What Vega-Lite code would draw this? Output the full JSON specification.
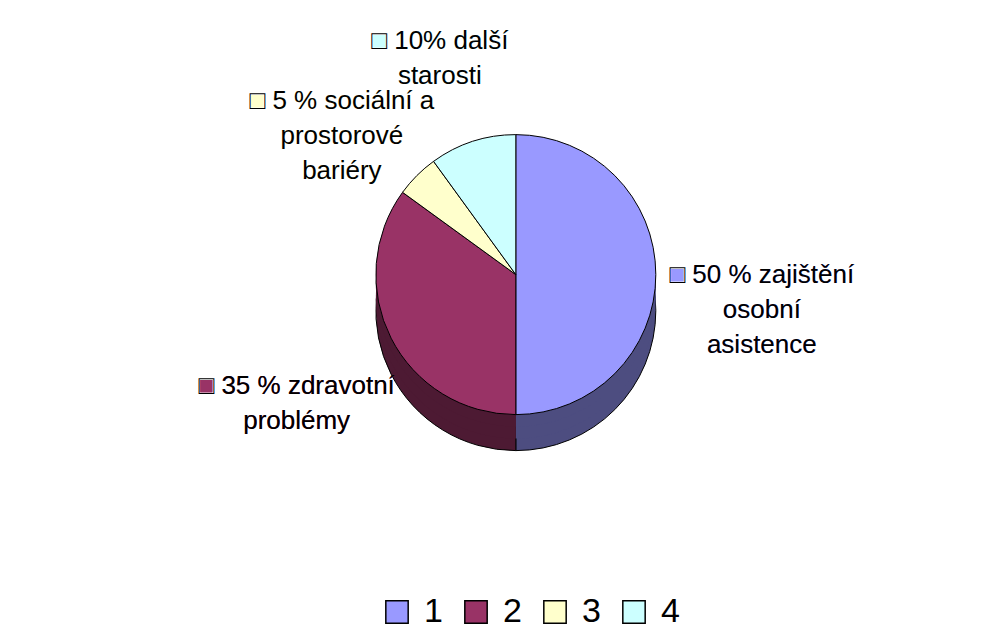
{
  "$schema": "https://vega.github.io/schema/vega-lite/v6.json",
  "width": 983,
  "height": 637,
  "autosize": {"type": "fit", "contains": "padding"},
  "padding": {"left": 5, "right": 5, "top": 5, "bottom": 5},
  "background": "white",
  "config": {"view": {"stroke": null}, "font": "Liberation Sans"},
  "data": {
    "values": [
      {"cat": "1", "value": 50, "label": "50 % zajištění|osobní|asistence"},
      {"cat": "2", "value": 35, "label": "35 % zdravotní|problémy"},
      {"cat": "3", "value": 5, "label": "5 % sociální a|prostorové|bariéry"},
      {"cat": "4", "value": 10, "label": "10% další|starosti"}
    ]
  },
  "encoding": {
    "theta": {"field": "value", "type": "quantitative", "stack": true},
    "order": {"field": "cat", "type": "ordinal"}
  },
  "layer": [
    {
      "mark": {"type": "arc", "outerRadius": 140, "yOffset": 36, "x": {"expr": "width*0.525"}, "y": {"expr": "height*0.43"}, "stroke": "black", "strokeWidth": 1},
      "encoding": {
        "color": {"field": "cat", "type": "nominal", "legend": null,
          "scale": {"domain": ["1", "2", "3", "4"], "range": ["#4d4d80", "#4d1a33", "#808066", "#668080"]}}
      }
    },
    {
      "mark": {"type": "arc", "outerRadius": 140, "yOffset": 24, "x": {"expr": "width*0.525"}, "y": {"expr": "height*0.43"}},
      "encoding": {
        "color": {"field": "cat", "type": "nominal", "legend": null,
          "scale": {"domain": ["1", "2", "3", "4"], "range": ["#4d4d80", "#4d1a33", "#808066", "#668080"]}}
      }
    },
    {
      "mark": {"type": "arc", "outerRadius": 140, "yOffset": 12, "x": {"expr": "width*0.525"}, "y": {"expr": "height*0.43"}},
      "encoding": {
        "color": {"field": "cat", "type": "nominal", "legend": null,
          "scale": {"domain": ["1", "2", "3", "4"], "range": ["#4d4d80", "#4d1a33", "#808066", "#668080"]}}
      }
    },
    {
      "mark": {"type": "arc", "outerRadius": 140, "x": {"expr": "width*0.525"}, "y": {"expr": "height*0.43"}, "stroke": "black", "strokeWidth": 1},
      "encoding": {
        "color": {"field": "cat", "type": "nominal",
          "scale": {"domain": ["1", "2", "3", "4"], "range": ["#9999ff", "#993366", "#ffffcc", "#ccffff"]},
          "legend": {"orient": "none", "legendX": 375, "legendY": 590, "direction": "horizontal", "title": null,
            "symbolType": "square", "symbolSize": 500, "symbolStrokeColor": "black", "symbolStrokeWidth": 1.5,
            "symbolOpacity": 1, "labelFontSize": 34, "labelFont": "Liberation Sans", "labelColor": "black",
            "columnPadding": 16, "labelOffset": 10}}
      }
    },
    {
      "transform": [{"calculate": "'■ ' + datum.label", "as": "t"}],
      "mark": {"type": "text", "radius": 246, "x": {"expr": "width*0.525"}, "y": {"expr": "height*0.43"},
        "fontSize": 26, "font": "Liberation Sans", "lineBreak": "|", "align": "center", "baseline": "middle", "lineHeight": 35},
      "encoding": {
        "text": {"field": "t"},
        "color": {"field": "cat", "type": "nominal", "legend": null,
          "scale": {"domain": ["1", "2", "3", "4"], "range": ["#9999ff", "#993366", "#ffffcc", "#ccffff"]}}
      }
    },
    {
      "transform": [{"calculate": "'□ ' + datum.label", "as": "t"}],
      "mark": {"type": "text", "radius": 246, "x": {"expr": "width*0.525"}, "y": {"expr": "height*0.43"},
        "fontSize": 26, "font": "Liberation Sans", "lineBreak": "|", "align": "center", "baseline": "middle", "lineHeight": 35, "color": "black"},
      "encoding": {"text": {"field": "t"}}
    }
  ],
  "resolve": {"scale": {"color": "independent"}}
}
